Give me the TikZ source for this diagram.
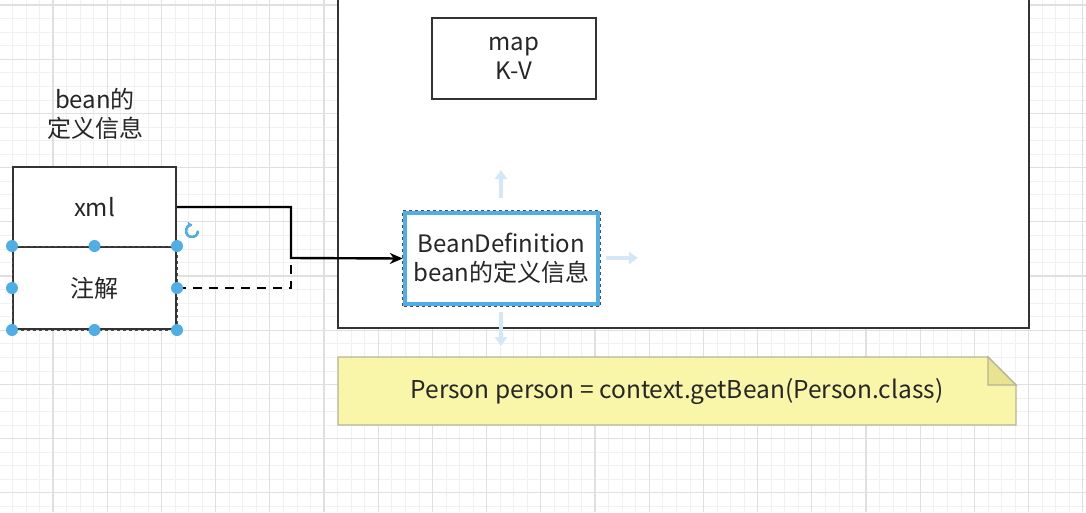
\documentclass[tikz,border=0pt]{standalone}
\usepackage{fontspec}
\setmainfont{Noto Sans CJK SC}
\usetikzlibrary{arrows.meta}
\definecolor{gridminor}{HTML}{F1F1F1}
\definecolor{gridmajor}{HTML}{E0E0E0}
\definecolor{selblue}{HTML}{4FAEE6}
\definecolor{hintblue}{HTML}{D3E8F6}
\definecolor{notefill}{HTML}{F9F5A9}
\definecolor{noteedge}{HTML}{B5B49A}
\definecolor{boxedge}{HTML}{333333}
\newcommand{\handle}[1]{%
  \fill[selblue] (#1) circle (6pt);
}

\begin{document}
\begin{tikzpicture}[x=1pt,y=-1pt,
  box/.style={draw=boxedge,line width=2pt,fill=white,align=center,
    font=\fontsize{24pt}{29pt}\selectfont,text=black!85,inner sep=0pt},
  link/.style={line width=2.4pt,black},
  hint/.style={hintblue,line width=4pt,-{Triangle[length=9pt,width=12pt]}}]
  \clip (0,0) rectangle (1086,512);
  \fill[white] (0,0) rectangle (1086,512);

  % grid
  \foreach \k in {0,...,80}
    \draw[gridminor,line width=0.7pt] ({-1.2+13.55*\k},0) -- ++(0,512);
  \foreach \k in {0,...,38}
    \draw[gridminor,line width=0.7pt] (0,{-8.55+13.55*\k}) -- ++(1086,0);
  \foreach \k in {-1,...,19}
    \draw[gridmajor,line width=1.1pt] ({53+54.2*\k},0) -- ++(0,512);
  \foreach \k in {0,...,9}
    \draw[gridmajor,line width=1.1pt] (0,{5+54.2*\k}) -- ++(1086,0);

  % container
  \draw[boxedge,line width=2.2pt,fill=white] (338,-10) rectangle (1029,328);

  \node[box,minimum width=164pt,minimum height=81pt] (map) at (514,58) {map\\K-V};
  \node[align=center,font=\fontsize{24pt}{29pt}\selectfont,text=black!85] (info) at (95,114) {bean的\\定义信息};

  \node[box,minimum width=163pt,minimum height=80pt] (xml) at (94.5,207) {xml};
  \node[box,minimum width=163pt,minimum height=82pt] (anno) at (94.5,288) {注解};
  \node[box,draw=selblue,line width=4.5pt,minimum width=193pt,minimum height=91pt] (def) at (501.5,258.5) {BeanDefinition\\bean的定义信息};
  \draw[black!70,dashed,line width=0.9pt] (def.south west) rectangle (def.north east);

  % connectors
  \coordinate (joint) at (291,258);
  \coordinate (dashend) at (291,263);
  \draw[link,dashed,dash pattern=on 9pt off 7pt] (anno.east) -| (dashend);
  \draw[link,-{Stealth[length=13pt,width=11pt]}] (xml.east) -| (joint) -- (def.west);

  % selection handles
  \draw[black!70,dashed,line width=0.9pt] (anno.south west) rectangle (anno.north east);
  \foreach \a in {north west,north,north east,east,south east,south,south west,west}
    \handle{anno.\a}
  \draw[selblue,line width=1.8pt,-{Stealth[length=4pt,width=5pt]}]
    (198,231) arc[start angle=0,end angle=-270,radius=6pt];
  \draw[hint] (501,198) -- (501,170);
  \draw[hint] (606,258) -- (638,258);
  \draw[hint] (501,312) -- (501,346);

  % note
  \draw[noteedge,line width=1.4pt,fill=notefill]
    (338,357) -- (988,357) -- (1016,385) -- (1016,425) -- (338,425) -- cycle;
  \draw[noteedge,line width=1.4pt,fill=notefill!85!olive] (988,357) -- (988,385) -- (1016,385) -- cycle;
  \node[font=\fontsize{24.5pt}{29pt}\selectfont,text=black!85] (code) at (677,392) {Person person = context.getBean(Person.class)};
\end{tikzpicture}
\end{document}
